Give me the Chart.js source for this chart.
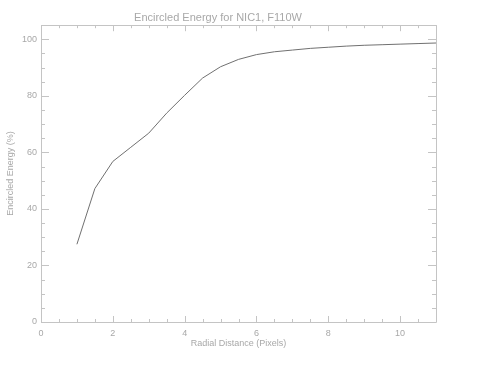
<!DOCTYPE html>
<html>
<head>
<meta charset="utf-8">
<script src="https://cdn.jsdelivr.net/npm/chart.js@4/dist/chart.umd.min.js"></script>
<style>
html,body{margin:0;padding:0;background:#fff;}
#wrap{width:483px;height:372px;}
</style>
</head>
<body>
<div id="wrap"><canvas id="c" width="483" height="372"></canvas></div>
<script>
const titleText = "Encircled Energy for NIC1, F110W";
const xTitle = "Radial Distance (Pixels)";
const yTitle = "Encircled Energy (%)";
const radius = [1, 1.5, 2, 2.5, 3, 3.5, 4, 4.5, 5, 5.5, 6, 6.5, 7, 7.5, 8, 8.5, 9, 9.5, 10, 10.5, 11];
const energy = [27.5, 47.2, 56.8, 61.8, 66.8, 73.9, 80.2, 86.3, 90.3, 92.9, 94.6, 95.6, 96.2, 96.8, 97.2, 97.6, 97.9, 98.1, 98.3, 98.5, 98.7];
const xTicks = [0, 2, 4, 6, 8, 10];
const yTicks = [0, 20, 40, 60, 80, 100];

const axisColor = '#c4c4c4';
const textColor = '#a8a8a8';
const fontFam = '"Liberation Sans", Arial, sans-serif';

const boxTicks = {
  id: 'boxTicks',
  afterDatasetsDraw(chart) {
    const {ctx, chartArea: a, scales: {x, y}} = chart;
    ctx.save();
    ctx.strokeStyle = axisColor;
    ctx.lineWidth = 1;
    ctx.beginPath();
    ctx.rect(Math.round(a.left) + 0.5, Math.round(a.top) + 0.5, Math.round(a.right - a.left), Math.round(a.bottom - a.top));
    // x ticks
    for (let v = 0; v <= 11.0001; v += 0.5) {
      const px = Math.round(x.getPixelForValue(v)) + 0.5;
      const major = Math.abs(v / 2 - Math.round(v / 2)) < 1e-6;
      const len = major ? 6 : 3;
      ctx.moveTo(px, a.bottom); ctx.lineTo(px, a.bottom - len);
      ctx.moveTo(px, a.top); ctx.lineTo(px, a.top + len);
    }
    for (let v = 0; v <= 105.0001; v += 5) {
      const py = Math.round(y.getPixelForValue(v)) + 0.5;
      const major = v % 20 === 0;
      const len = major ? 8 : 4;
      ctx.moveTo(a.left, py); ctx.lineTo(a.left + len, py);
      ctx.moveTo(a.right, py); ctx.lineTo(a.right - len, py);
    }
    ctx.stroke();
    ctx.restore();
  }
};

new Chart(document.getElementById('c'), {
  type: 'line',
  data: {
    datasets: [{
      data: radius.map((r, i) => ({x: r, y: energy[i]})),
      borderColor: '#707070',
      borderWidth: 1,
      pointRadius: 0,
      tension: 0,
      fill: false
    }]
  },
  options: {
    responsive: false,
    animation: false,
    devicePixelRatio: 1,
    layout: {padding: {left: 0, right: 47, top: 0, bottom: 0}},
    plugins: {
      legend: {display: false},
      tooltip: {enabled: false},
      title: {
        display: true,
        text: titleText,
        color: textColor,
        font: {family: fontFam, size: 11, weight: 'normal'},
        padding: {top: 11, bottom: 1}
      }
    },
    scales: {
      x: {
        type: 'linear',
        min: 0, max: 11,
        afterBuildTicks: s => { s.ticks = xTicks.map(v => ({value: v})); },
        afterFit: s => { s.height = 50; },
        grid: {display: false, drawTicks: false},
        border: {display: false},
        ticks: {color: textColor, font: {family: fontFam, size: 9}, padding: 6, maxRotation: 0, autoSkip: false},
        title: {display: true, text: xTitle, color: textColor, font: {family: fontFam, size: 9}, padding: {top: 0, bottom: 23}}
      },
      y: {
        type: 'linear',
        min: 0, max: 105,
        afterBuildTicks: s => { s.ticks = yTicks.map(v => ({value: v})); },
        afterFit: s => { s.width = 41; },
        grid: {display: false, drawTicks: false},
        border: {display: false},
        ticks: {color: textColor, font: {family: fontFam, size: 9}, padding: 4, autoSkip: false},
        title: {display: true, text: yTitle, color: textColor, font: {family: fontFam, size: 9}, padding: {top: 5, bottom: 0}}
      }
    }
  },
  plugins: [boxTicks]
});
</script>
</body>
</html>
